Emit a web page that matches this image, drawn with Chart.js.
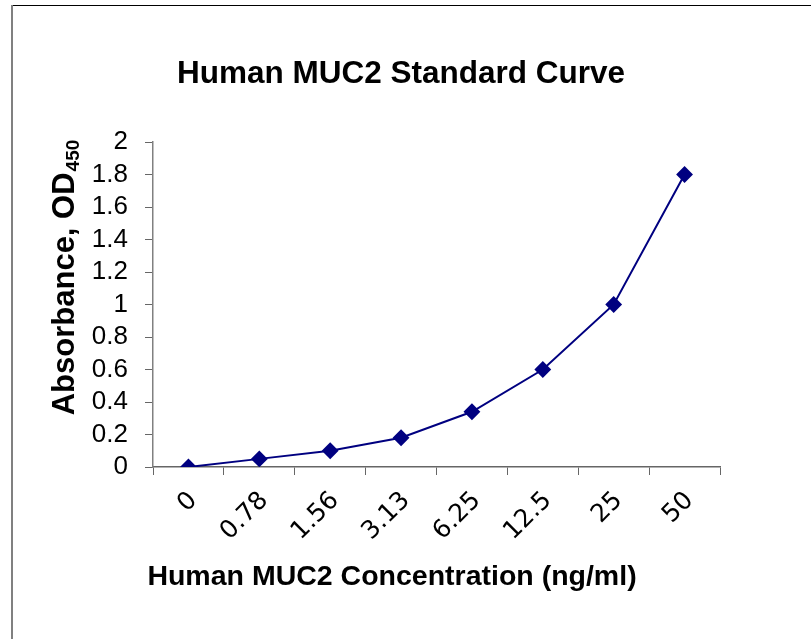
<!DOCTYPE html>
<html>
<head>
<meta charset="utf-8">
<script src="https://cdn.jsdelivr.net/npm/chart.js@4/dist/chart.umd.min.js"></script>
<style>
body{margin:0;background:#fff}
canvas{display:block}
</style>
</head>
<body>
<canvas id="curve" width="811" height="639"></canvas>
<script>
const concentrations = ["0","0.78","1.56","3.13","6.25","12.5","25","50"]
const absorbance = [0, 0.05, 0.10, 0.18, 0.34, 0.60, 1.00, 1.80]
const yTicks = [0,0.2,0.4,0.6,0.8,1,1.2,1.4,1.6,1.8,2]

const chartTitle = "Human MUC2 Standard Curve"
const xTitle = "Human MUC2 Concentration (ng/ml)"
const yTitle = "Absorbance, OD"
const ySub = "450"

const font = "'Liberation Sans', Arial, sans-serif"

// frame + titles drawn straight on the canvas
const decorations = {
    id:"decorations",
    beforeDraw(chart){
        const ctx = chart.ctx
        ctx.save()
        ctx.fillStyle="#fff"
        ctx.fillRect(0,0,chart.width,chart.height)
        ctx.strokeStyle="#000"
        ctx.lineWidth=1
        ctx.beginPath()
        ctx.moveTo(11,5.5)
        ctx.lineTo(chart.width,5.5)
        ctx.stroke()
        ctx.strokeStyle="#808080"
        ctx.lineWidth=2
        ctx.beginPath()
        ctx.moveTo(12,5)
        ctx.lineTo(12,chart.height)
        ctx.stroke()
        ctx.restore()
    },
    afterDraw(chart){
        const ctx = chart.ctx
        ctx.save()
        ctx.fillStyle="#000"
        ctx.textAlign="center"
        ctx.textBaseline="middle"

        ctx.font="bold 31.5px " + font
        ctx.fillText(chartTitle, 401, 74)

        ctx.font="bold 28.5px " + font
        ctx.fillText(xTitle, 392, 577)

        // rotated y title with subscript
        ctx.textBaseline="alphabetic"
        ctx.translate(74, 278)
        ctx.rotate(-Math.PI/2)
        ctx.font="bold 31px " + font
        const w1 = ctx.measureText(yTitle).width
        ctx.font="bold 19px " + font
        const w2 = ctx.measureText(ySub).width
        const start = -(w1+w2)/2
        ctx.textAlign="left"
        ctx.font="bold 31px " + font
        ctx.fillText(yTitle, start, 0)
        ctx.font="bold 19px " + font
        ctx.fillText(ySub, start+w1+1, 5)
        ctx.restore()
    }
}

new Chart(document.getElementById("curve"), {
    type:"line",
    data:{
        labels:concentrations,
        datasets:[{
            data:absorbance,
            borderColor:"#000080",
            backgroundColor:"#000080",
            borderWidth:2,
            pointStyle:"rectRot",
            pointRadius:7,
            pointHoverRadius:7,
            tension:0
        }]
    },
    options:{
        responsive:false,
        animation:false,
        events:[],
        layout:{padding:{top:142,right:91,left:0,bottom:0}},
        plugins:{legend:{display:false},title:{display:false},tooltip:{enabled:false}},
        scales:{
            x:{
                offset:true,
                grid:{offset:true,drawOnChartArea:false,tickLength:8,color:"#666"},
                border:{color:"#666",width:1.5},
                ticks:{
                    color:"#000",
                    font:{family:"'DejaVu Sans', sans-serif",size:25},
                    minRotation:45,
                    maxRotation:45,
                    autoSkip:false,
                    padding:11,
                    labelOffset:5
                },
                afterFit(scale){ scale.height = 172 }
            },
            y:{
                min:0,
                max:2,
                afterBuildTicks(scale){ scale.ticks = yTicks.map(v=>({value:v})) },
                grid:{drawOnChartArea:false,tickLength:8,color:"#666"},
                border:{color:"#808080",width:1.5},
                ticks:{
                    color:"#000",
                    font:{family:font,size:26},
                    padding:17,
                    autoSkip:false,
                    callback:v=>String(v)
                },
                afterFit(scale){ scale.width = 153 }
            }
        }
    },
    plugins:[decorations]
})
</script>
</body>
</html>
